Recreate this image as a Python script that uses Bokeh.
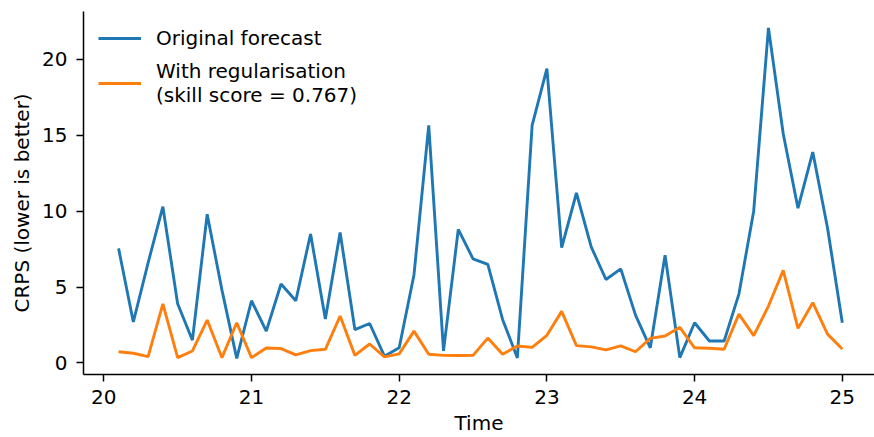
from bokeh.plotting import figure
from bokeh.models import FixedTicker, Legend, LegendItem, Range1d, Title
from bokeh.embed import file_html
from bokeh.resources import INLINE

time = [round(20.1 + 0.1 * i, 1) for i in range(50)]

original = [7.55, 2.7, 6.6, 10.3, 3.9, 1.5, 9.8, 4.8, 0.3, 4.1,
            2.1, 5.2, 4.1, 8.5, 2.9, 8.6, 2.2, 2.6, 0.45, 1.0,
            5.8, 15.66, 0.8, 8.8, 6.86, 6.5, 2.87, 0.33, 15.66, 19.4,
            7.6, 11.2, 7.65, 5.5, 6.2, 3.15, 1.0, 7.1, 0.35, 2.65,
            1.45, 1.45, 4.54, 10.0, 22.08, 15.1, 10.2, 13.9, 8.9, 2.65]

regularised = [0.74, 0.64, 0.42, 3.9, 0.35, 0.79, 2.83, 0.35, 2.65, 0.35,
               0.99, 0.95, 0.53, 0.81, 0.9, 3.09, 0.5, 1.25, 0.4, 0.6,
               2.1, 0.57, 0.5, 0.49, 0.5, 1.64, 0.57, 1.12, 1.03, 1.82,
               3.4, 1.14, 1.06, 0.86, 1.12, 0.74, 1.62, 1.78, 2.35, 1.0,
               0.97, 0.9, 3.22, 1.8, 3.75, 6.1, 2.28, 3.97, 1.9, 0.92]

x_ticks = [20, 21, 22, 23, 24, 25]
y_ticks = [0, 5, 10, 15, 20]

FONT = "DejaVu Sans"
FS = "20px"

p = figure(width=874, height=437, output_backend="svg", toolbar_location=None,
           x_range=Range1d(19.8626, 25.218), y_range=Range1d(-0.76, 23.16),
           min_border_left=83, min_border_right=0, min_border_top=11,
           min_border_bottom=63)
p.outline_line_color = None
p.grid.visible = False
p.background_fill_color = "white"

r1 = p.line(time, original, line_color="#1f77b4", line_width=2.9)
r2 = p.line(time, regularised, line_color="#ff7f0e", line_width=2.9)

legend = Legend(items=[
    LegendItem(label="Original forecast", renderers=[r1]),
    LegendItem(label="With regularisation\n(skill score = 0.767)", renderers=[r2]),
], location="top_left")
legend.label_text_font = FONT
legend.label_text_font_size = FS
legend.label_text_color = "black"
legend.label_text_line_height = 1.08
legend.glyph_width = 43
legend.glyph_height = 20
legend.label_standoff = 15
legend.spacing = 9
legend.padding = 15
legend.margin = 0
legend.border_line_alpha = 0
legend.background_fill_alpha = 0
p.add_layout(legend)

for ax in (p.xaxis[0], p.yaxis[0]):
    ax.axis_line_width = 1.5
    ax.axis_line_color = "black"
    ax.major_tick_line_width = 1.5
    ax.major_tick_line_color = "black"
    ax.major_tick_out = 7
    ax.major_tick_in = 0
    ax.minor_tick_line_color = None
    ax.major_label_text_font = FONT
    ax.major_label_text_font_size = FS
    ax.major_label_text_color = "black"
    ax.axis_label_text_font = FONT
    ax.axis_label_text_font_size = FS
    ax.axis_label_text_font_style = "normal"
    ax.axis_label_text_color = "black"

p.xaxis.ticker = FixedTicker(ticks=x_ticks)
p.yaxis.ticker = FixedTicker(ticks=y_ticks)
p.xaxis.axis_label = "Time"
p.xaxis.major_label_standoff = 8
p.yaxis.major_label_standoff = 9
p.xaxis.axis_label_standoff = 4

ylab = Title(text="CRPS (lower is better)", align="left", offset=62,
             text_font=FONT, text_font_size=FS, text_font_style="normal",
             text_color="black", standoff=11)
p.add_layout(ylab, "left")

open("out.html", "w").write(file_html(p, INLINE))
